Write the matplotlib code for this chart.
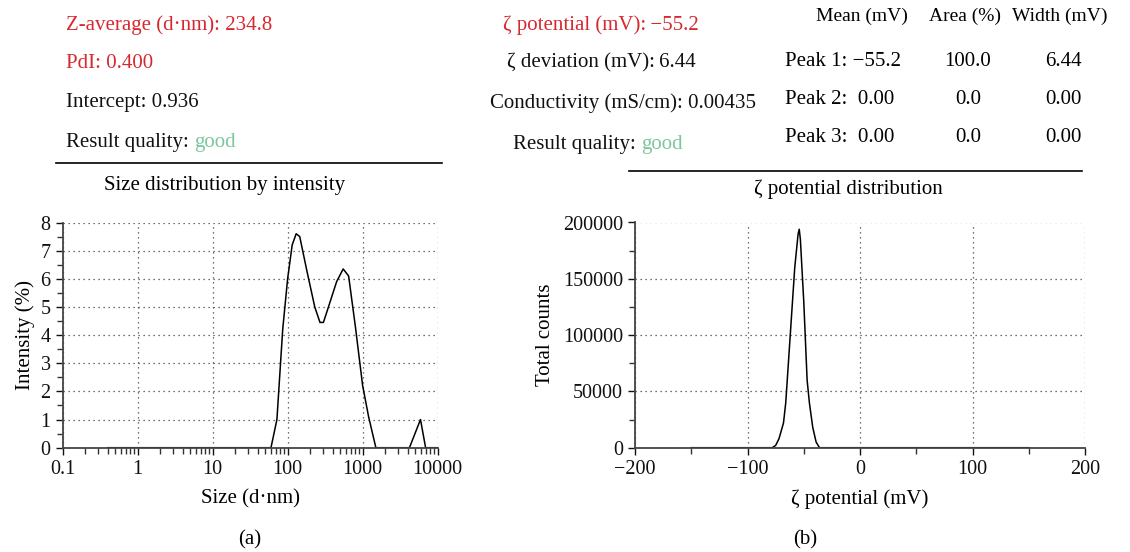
import numpy as np
import matplotlib
matplotlib.use("Agg")
import matplotlib.pyplot as plt
from matplotlib.ticker import MultipleLocator, LogLocator, FixedLocator

plt.rcParams['font.family'] = ['Liberation Serif', 'DejaVu Serif']
plt.rcParams['font.size'] = 15

# size distribution by intensity (panel a)
size_nm = [0.4, 60, 72, 86, 100, 115, 130, 145, 180, 230, 270, 300, 350, 450, 550, 650,
           800, 1000, 1200, 1500, 4200, 5900, 6900, 10000]
intensity = [0, 0, 1.0, 4.2, 6.0, 7.2, 7.6, 7.5, 6.3, 5.0, 4.45, 4.45, 5.0, 5.9, 6.35, 6.1,
             4.3, 2.2, 1.1, 0, 0, 1.0, 0, 0]

# zeta potential distribution (panel b)
zeta_mv = [-150, -78, -75, -72, -68, -66, -62, -58, -55, -54, -53, -50, -47, -45, -42, -39, -36, 150]
counts = [0, 0, 2000, 8000, 22000, 40000, 100000, 160000, 190000, 194000, 185000, 130000,
          60000, 40000, 18000, 5000, 0, 0]

RED = "#d7282f"
GREEN = "#7cc79b"
W, H = 1130, 552
FS = 15

def fx(px):
    return px / W

def fy(py):
    return 1 - py / H

fig = plt.figure(figsize=(11.3, 5.52), dpi=100)

def style_axes(ax):
    for s in ["top", "right"]:
        ax.spines[s].set_visible(False)
    for s in ["left", "bottom"]:
        ax.spines[s].set_linewidth(1.3)
        ax.spines[s].set_color("#444444")
    ax.grid(True, which="major", color="#444444", linestyle=(0, (1, 3)), linewidth=0.9)
    ax.tick_params(which="both", direction="out", color="#333333", width=1.0)
    ax.tick_params(which="major", length=5, labelsize=14.5, colors="#111111")
    ax.tick_params(which="minor", length=4)

# panel a
ax1 = fig.add_axes([fx(62.5), fy(447.7), fx(437.7 - 62.5), (447.7 - 222.5) / H])
ax1.plot(size_nm, intensity, color="black", linewidth=1.1)
ax1.set_xscale("log")
ax1.set_xlim(0.1, 10000)
ax1.set_ylim(0, 8)
ax1.yaxis.set_major_locator(MultipleLocator(1))
ax1.yaxis.set_minor_locator(MultipleLocator(0.5))
ax1.xaxis.set_major_locator(FixedLocator([0.1, 1, 10, 100, 1000, 10000]))
ax1.xaxis.set_minor_locator(LogLocator(base=10, subs=np.arange(2, 10), numticks=20))
ax1.set_xticklabels(["0.1", "1", "10", "100", "1000", "10000"])
style_axes(ax1)
ax1.set_xlabel("Size (d\u00b7nm)", fontsize=FS, labelpad=8)
ax1.set_ylabel("Intensity (%)", fontsize=FS, labelpad=4)

# panel b
ax2 = fig.add_axes([fx(635), fy(447.7), fx(1085 - 635), (447.7 - 222.5) / H])
ax2.plot(zeta_mv, counts, color="black", linewidth=1.1)
ax2.set_xlim(-200, 200)
ax2.set_ylim(0, 200000)
ax2.xaxis.set_minor_locator(MultipleLocator(50))
ax2.yaxis.set_major_locator(MultipleLocator(50000))
ax2.yaxis.set_minor_locator(MultipleLocator(25000))
ax2.set_xticks([-200, -100, 0, 100, 200])
ax2.set_xticklabels(["\u2212200", "\u2212100", "0", "100", "200"])
style_axes(ax2)
ax2.set_xlabel("\u03b6 potential (mV)", fontsize=FS, labelpad=8)
ax2.set_ylabel("Total counts", fontsize=FS, labelpad=6)

def colored_pair(x, y, first, second, color):
    t = fig.text(fx(x), fy(y), first, color="#111111", va="center", fontsize=FS)
    fig.canvas.draw()
    bb = t.get_window_extent()
    fig.text(bb.x1 / W, fy(y), second, color=color, va="center", fontsize=FS)

# header texts panel a
fig.text(fx(66), fy(25), "Z-average (d\u00b7nm): 234.8", color=RED, va="center", fontsize=FS)
fig.text(fx(66), fy(64), "PdI: 0.400", color=RED, va="center", fontsize=FS)
fig.text(fx(66), fy(103), "Intercept: 0.936", color="#111111", va="center", fontsize=FS)
colored_pair(66, 142, "Result quality: ", "good", GREEN)
fig.add_artist(plt.Line2D([fx(56), fx(442)], [fy(163), fy(163)], color="black", linewidth=1.2))
fig.text(fx(225), fy(186), "Size distribution by intensity", ha="center", va="center", fontsize=FS)
fig.text(fx(250), fy(540), "(a)", ha="center", va="center", fontsize=FS)

# header texts panel b
fig.text(fx(503), fy(25), "\u03b6 potential (mV):\u2009\u221255.2", color=RED, va="center", fontsize=FS)
fig.text(fx(507), fy(63), "\u03b6 deviation (mV):\u20096.44", color="#111111", va="center", fontsize=FS)
fig.text(fx(490), fy(103), "Conductivity (mS/cm): 0.00435", color="#111111", va="center", fontsize=FS)
colored_pair(513, 145, "Result quality: ", "good", GREEN)

headers = ["Mean (mV)", "Area (%)", "Width (mV)"]
header_x = [862, 965, 1060]
for h, x in zip(headers, header_x):
    fig.text(fx(x), fy(16), h, ha="center", va="center", fontsize=14)

peaks = ["Peak 1: \u221255.2", "Peak 2:  0.00", "Peak 3:  0.00"]
areas = ["100.0", "0.0", "0.0"]
widths = ["6.44", "0.00", "0.00"]
row_y = [61, 99, 138]
for p, a, w, y in zip(peaks, areas, widths, row_y):
    fig.text(fx(785), fy(y), p, va="center", fontsize=FS)
    fig.text(fx(968), fy(y), a, ha="center", va="center", fontsize=FS)
    fig.text(fx(1063), fy(y), w, ha="center", va="center", fontsize=FS)

fig.add_artist(plt.Line2D([fx(629), fx(1082)], [fy(171), fy(171)], color="black", linewidth=1.2))
fig.text(fx(848), fy(189), "\u03b6 potential distribution", ha="center", va="center", fontsize=FS)
fig.text(fx(805), fy(540), "(b)", ha="center", va="center", fontsize=FS)

fig.savefig("out.png", dpi=100)
